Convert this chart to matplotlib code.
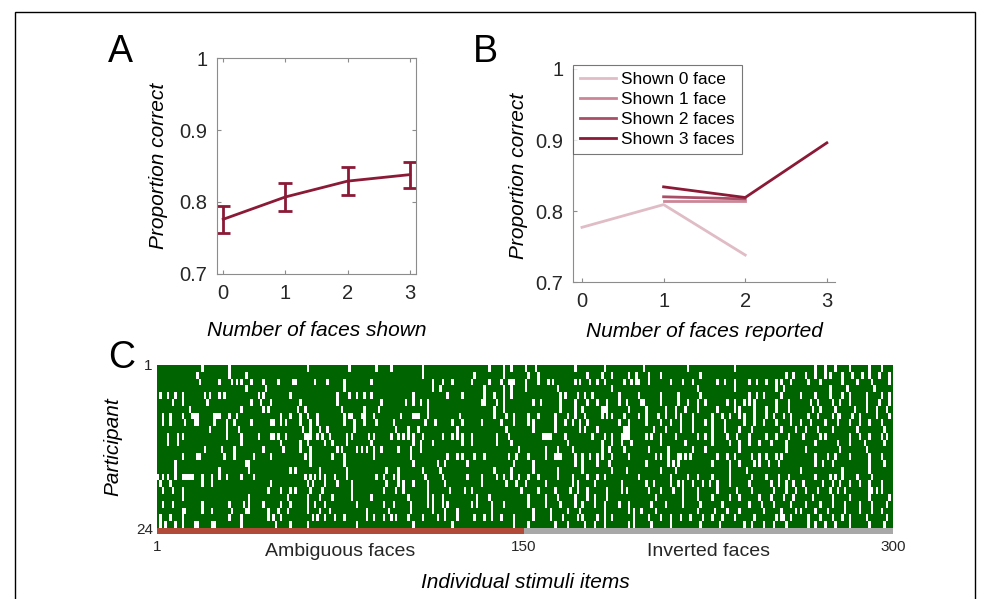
import numpy as np
import matplotlib
matplotlib.use("Agg")
import matplotlib.pyplot as plt
from matplotlib.patches import Rectangle
from matplotlib.colors import ListedColormap

plt.rcParams['font.family'] = ['Liberation Sans', 'DejaVu Sans']

# ---------------- data ----------------
faces_shown = [0, 1, 2, 3]
acc_shown = [0.776, 0.807, 0.829, 0.838]
err_shown = [0.019, 0.019, 0.019, 0.018]

reported_0 = [0, 1, 2]
acc_0 = [0.777, 0.809, 0.738]
reported_1 = [1, 2]
acc_1 = [0.814, 0.814]
reported_2 = [1, 2]
acc_2 = [0.820, 0.817]
reported_3 = [1, 2, 3]
acc_3 = [0.834, 0.819, 0.896]
legend_labels = ['Shown 0 face', 'Shown 1 face', 'Shown 2 faces', 'Shown 3 faces']

n_participants = 24
n_items = 300
# white (incorrect) items per participant, 0-based item index
white_items = [
    [18, 29, 61, 78, 89, 95, 108, 135, 141, 144, 150, 154, 170, 182, 198, 216, 235, 268, 272, 276, 282, 290, 295],
    [16, 29, 36, 108, 129, 141, 151, 155, 175, 181, 185, 192, 195, 200, 205, 221, 256, 259, 264, 268, 272, 274, 279, 283, 287, 290, 294, 298],
    [17, 25, 30, 32, 34, 38, 43, 49, 55, 56, 64, 69, 76, 87, 112, 116, 120, 128, 135, 140, 143, 144, 145, 150, 155, 159, 161, 170, 172, 176, 179, 182, 190, 193, 195, 196, 200, 209, 214, 218, 228, 231, 235, 241, 244, 248, 252, 254, 258, 265, 270, 279, 285, 291, 298],
    [36, 44, 76, 112, 115, 133, 141, 144, 150, 163, 185, 220, 235, 252, 255, 274, 281, 292],
    [1, 4, 7, 10, 19, 21, 25, 27, 41, 43, 54, 73, 78, 81, 84, 87, 104, 118, 124, 133, 137, 141, 144, 164, 166, 171, 174, 177, 188, 196, 205, 212, 221, 241, 244, 247, 254, 262, 268, 274, 279, 282, 289, 295, 298],
    [6, 10, 20, 38, 42, 46, 58, 73, 91, 101, 104, 107, 110, 132, 133, 138, 141, 153, 156, 164, 170, 175, 179, 183, 188, 191, 197, 198, 205, 212, 216, 220, 223, 232, 235, 239, 241, 243, 252, 257, 266, 269, 275, 278, 282, 289, 294, 298],
    [13, 34, 43, 45, 57, 60, 75, 84, 90, 110, 137, 141, 164, 170, 173, 181, 182, 183, 192, 199, 207, 211, 215, 220, 228, 235, 237, 243, 248, 252, 257, 267, 270, 276, 284, 289, 293, 297],
    [2, 5, 10, 14, 15, 16, 23, 24, 25, 29, 32, 50, 54, 58, 61, 65, 76, 78, 79, 83, 84, 88, 99, 104, 105, 106, 110, 123, 137, 142, 145, 151, 155, 162, 167, 170, 174, 181, 183, 185, 190, 196, 199, 204, 207, 211, 213, 218, 226, 230, 233, 237, 239, 243, 248, 251, 255, 258, 265, 269, 275, 277, 278, 283, 286, 293, 298],
    [2, 5, 11, 15, 16, 23, 28, 31, 38, 46, 47, 50, 52, 58, 62, 65, 76, 80, 84, 89, 96, 109, 113, 120, 124, 132, 140, 145, 151, 153, 162, 166, 169, 172, 175, 188, 192, 199, 205, 209, 213, 218, 223, 226, 231, 239, 243, 247, 252, 258, 262, 266, 272, 277, 282, 286, 290, 295],
    [21, 28, 33, 59, 62, 66, 69, 80, 97, 102, 106, 122, 142, 153, 162, 172, 174, 179, 190, 191, 192, 202, 207, 213, 218, 226, 231, 237, 242, 254, 260, 264, 269, 275, 285, 296],
    [4, 8, 10, 28, 34, 41, 46, 47, 49, 52, 60, 61, 62, 65, 67, 70, 77, 79, 86, 88, 95, 98, 100, 102, 104, 108, 116, 120, 122, 124, 128, 138, 143, 157, 158, 159, 160, 166, 177, 182, 185, 189, 190, 191, 192, 199, 201, 205, 211, 220, 223, 226, 232, 236, 241, 248, 252, 257, 263, 270, 272, 282, 286, 290, 295, 297],
    [4, 8, 34, 50, 58, 61, 68, 71, 77, 87, 104, 107, 112, 124, 128, 138, 144, 167, 181, 185, 189, 193, 205, 215, 226, 233, 237, 241, 245, 250, 256, 268, 277, 282, 288, 296],
    [19, 26, 31, 43, 51, 58, 62, 73, 75, 81, 83, 85, 88, 91, 98, 103, 107, 147, 158, 163, 169, 181, 184, 190, 200, 208, 218, 223, 237, 256, 264, 278, 289],
    [10, 16, 17, 27, 31, 39, 46, 60, 62, 71, 76, 88, 103, 118, 122, 124, 129, 133, 143, 146, 151, 158, 162, 163, 164, 170, 173, 176, 179, 181, 185, 192, 203, 205, 208, 212, 213, 215, 217, 228, 232, 235, 242, 245, 248, 252, 254, 268, 273, 276, 282, 290, 295],
    [7, 36, 37, 62, 76, 104, 114, 117, 126, 145, 153, 170, 173, 179, 184, 199, 208, 210, 212, 226, 233, 237, 243, 245, 249, 253, 268, 271, 275, 290, 296],
    [7, 25, 37, 54, 56, 66, 77, 93, 98, 108, 115, 137, 144, 153, 163, 173, 185, 191, 205, 211, 233, 240, 262, 279, 290],
    [0, 2, 4, 7, 10, 11, 12, 13, 14, 18, 22, 25, 28, 34, 39, 60, 62, 64, 66, 68, 72, 77, 89, 92, 96, 98, 109, 116, 126, 132, 138, 141, 144, 147, 151, 155, 163, 169, 175, 179, 182, 196, 209, 216, 220, 226, 233, 242, 248, 253, 257, 268, 274, 276, 279, 285, 291],
    [1, 5, 18, 22, 46, 61, 63, 68, 73, 79, 93, 98, 100, 104, 110, 117, 132, 142, 146, 150, 158, 169, 171, 178, 189, 199, 202, 209, 212, 214, 218, 222, 225, 228, 233, 241, 250, 253, 256, 259, 263, 271, 275, 278, 282, 286, 290, 295],
    [2, 6, 10, 45, 50, 54, 56, 62, 67, 79, 92, 97, 100, 110, 119, 125, 128, 148, 155, 162, 168, 171, 175, 183, 189, 191, 200, 205, 210, 214, 220, 228, 236, 242, 251, 256, 260, 264, 269, 274, 277, 280, 290, 291, 293, 295],
    [10, 37, 53, 61, 66, 71, 79, 87, 102, 110, 112, 116, 130, 135, 151, 158, 163, 170, 175, 178, 183, 203, 214, 220, 226, 233, 237, 245, 250, 255, 259, 267, 275, 282, 290, 298],
    [2, 6, 18, 29, 35, 37, 43, 50, 54, 61, 64, 68, 81, 92, 96, 103, 110, 112, 116, 118, 128, 130, 136, 141, 151, 158, 164, 170, 173, 178, 182, 188, 192, 201, 207, 214, 221, 230, 241, 246, 251, 258, 264, 270, 275, 280, 286, 291, 297],
    [10, 11, 18, 22, 30, 36, 37, 45, 49, 53, 61, 66, 70, 85, 94, 103, 112, 117, 122, 136, 153, 160, 167, 172, 182, 192, 194, 197, 203, 220, 227, 232, 237, 247, 254, 260, 262, 268, 273, 280, 286, 291, 295],
    [1, 5, 10, 29, 34, 45, 47, 50, 63, 65, 68, 72, 76, 85, 88, 92, 95, 97, 102, 108, 114, 117, 122, 129, 133, 136, 140, 145, 153, 160, 165, 171, 173, 179, 182, 185, 194, 200, 205, 209, 213, 217, 222, 226, 230, 235, 243, 252, 254, 255, 258, 265, 270, 275, 279, 282, 289, 297],
    [1, 3, 7, 10, 15, 16, 22, 23, 34, 48, 54, 61, 81, 104, 120, 145, 151, 162, 167, 174, 178, 182, 192, 194, 201, 209, 221, 229, 239, 242, 247, 251, 256, 265, 268, 272, 276, 282, 290, 296],
]
category_labels = ['Ambiguous faces', 'Inverted faces']
category_bounds = [1, 150, 300]

# ---------------- styling ----------------
DARK = '#8a1a36'
line_colors = ['#e0bcc6', '#cc8596', '#a94e66', '#8a1a36']
GREEN = '#006400'
TXT = '#262626'
SPINE = '#8c8c8c'

W, H = 990, 599
fig = plt.figure(figsize=(W / 100, H / 100), dpi=100)

def rect(l, t, r, b):
    return [l / W, 1 - b / H, (r - l) / W, (b - t) / H]

# outer frame
fig.patches.append(Rectangle((15 / W, -0.05), 960 / W, 1 - 12 / H + 0.05,
                             transform=fig.transFigure, fill=False,
                             edgecolor='black', linewidth=1.0))

# ---------------- Panel A ----------------
axA = fig.add_axes(rect(217, 58, 416, 274))
axA.errorbar(faces_shown, acc_shown, yerr=err_shown, color=DARK, linewidth=2,
             elinewidth=2, capsize=5, capthick=2)
axA.set_xlim(-0.1, 3.1)
axA.set_ylim(0.7, 1.0)
axA.set_xticks([0, 1, 2, 3])
axA.set_yticks([0.7, 0.8, 0.9, 1.0])
axA.set_yticklabels(['0.7', '0.8', '0.9', '1'])
axA.tick_params(direction='in', length=3, top=True, right=True,
                labelsize=14.5, colors=SPINE, labelcolor=TXT, pad=7, width=0.8)
for s in axA.spines.values():
    s.set_color(SPINE)
    s.set_linewidth(0.8)
axA.set_ylabel('Proportion correct', fontsize=15, style='italic', labelpad=8)
axA.set_xlabel('Number of faces shown', fontsize=15, style='italic', labelpad=13)
fig.text(108 / W, 1 - 62 / H, 'A', fontsize=27, ha='left', va='baseline')

# ---------------- Panel B ----------------
axB = fig.add_axes(rect(573, 69, 835, 282))
for xs, ys, c, lab in zip([reported_0, reported_1, reported_2, reported_3],
                          [acc_0, acc_1, acc_2, acc_3], line_colors, legend_labels):
    axB.plot(xs, ys, color=c, linewidth=2, label=lab)
axB.set_xlim(-0.11, 3.1)
axB.set_ylim(0.7, 1.0)
axB.set_xticks([0, 1, 2, 3])
axB.set_yticks([0.7, 0.8, 0.9, 1.0])
axB.set_yticklabels(['0.7', '0.8', '0.9', '1'])
axB.spines['top'].set_visible(False)
axB.spines['right'].set_visible(False)
for s in ['left', 'bottom']:
    axB.spines[s].set_color(SPINE)
    axB.spines[s].set_linewidth(0.8)
axB.tick_params(direction='in', length=3, labelsize=14.5, colors=SPINE,
                labelcolor=TXT, pad=7, width=0.8)
axB.set_ylabel('Proportion correct', fontsize=15, style='italic', labelpad=5)
axB.set_xlabel('Number of faces reported', fontsize=15, style='italic', labelpad=8)
leg = axB.legend(loc='upper left', bbox_to_anchor=(0.0, 1.02), fontsize=12.4,
                 frameon=True, fancybox=False, handlelength=2.1,
                 handletextpad=0.3, borderpad=0.4, labelspacing=0.3,
                 borderaxespad=0)
leg.get_frame().set_edgecolor('#555555')
leg.get_frame().set_linewidth(0.8)
fig.text(473 / W, 1 - 62 / H, 'B', fontsize=27, ha='left', va='baseline')

# ---------------- Panel C ----------------
mat = np.ones((n_participants, n_items))
for r, cols in enumerate(white_items):
    mat[r, cols] = 0
axC = fig.add_axes(rect(157, 365, 893, 528))
axC.imshow(mat, cmap=ListedColormap(['white', GREEN]), aspect='auto',
           interpolation='nearest', vmin=0, vmax=1,
           extent=(1, n_items, n_participants, 1))
axC.set_xlim(1, n_items)
axC.set_ylim(n_participants, 1)
axC.set_xticks([])
axC.set_yticks([1, n_participants])
axC.set_yticklabels(['1', '24'], fontsize=11, color=TXT)
axC.tick_params(length=0, pad=3)
for s in axC.spines.values():
    s.set_visible(False)
axC.set_ylabel('Participant', fontsize=15, style='italic', labelpad=10)
fig.text(108 / W, 1 - 368 / H, 'C', fontsize=27, ha='left', va='baseline')

axBar = fig.add_axes(rect(157, 528, 893, 534))
axBar.barh(0, category_bounds[1] - category_bounds[0], left=category_bounds[0],
           height=1, color='#b24a3a')
axBar.barh(0, category_bounds[2] - category_bounds[1], left=category_bounds[1],
           height=1, color='#a8a8a8')
axBar.set_xlim(1, n_items)
axBar.set_ylim(-0.5, 0.5)
axBar.set_yticks([])
axBar.set_xticks(category_bounds)
axBar.set_xticklabels([str(v) for v in category_bounds], fontsize=11, color=TXT)
axBar.tick_params(length=0, pad=4)
for s in axBar.spines.values():
    s.set_visible(False)
mid1 = (category_bounds[0] + category_bounds[1]) / 2
mid2 = (category_bounds[1] + category_bounds[2]) / 2
axBar.text(mid1, -3.5, category_labels[0], fontsize=14, ha='center', va='center', color=TXT)
axBar.text(mid2, -3.5, category_labels[1], fontsize=14, ha='center', va='center', color=TXT)
axBar.set_xlabel('Individual stimuli items', fontsize=15, style='italic', labelpad=14)

fig.savefig('out.png', dpi=100)
